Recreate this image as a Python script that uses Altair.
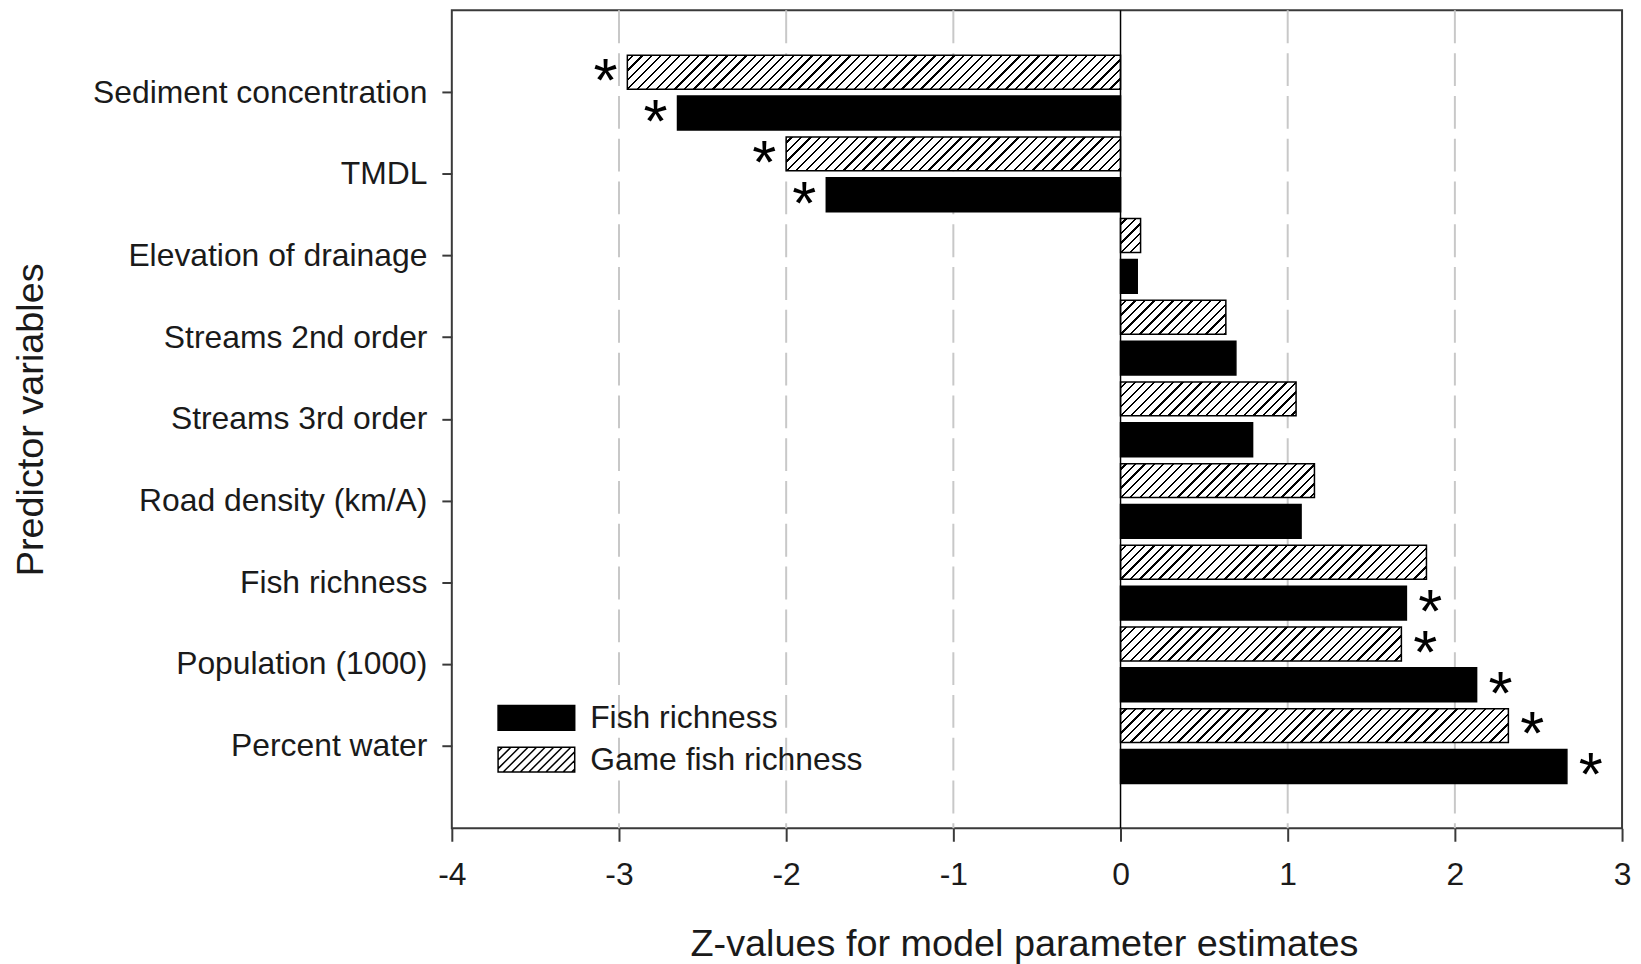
import altair as alt
import pandas as pd

# ---------------- data ----------------
categories = [
    "Sediment concentration",
    "TMDL",
    "Elevation of drainage",
    "Streams 2nd order",
    "Streams 3rd order",
    "Road density (km/A)",
    "Fish richness",
    "Population (1000)",
    "Percent water",
]
fish_richness = [-2.65, -1.76, 0.10, 0.69, 0.79, 1.08, 1.71, 2.13, 2.67]
game_fish_richness = [-2.95, -2.00, 0.12, 0.63, 1.05, 1.16, 1.83, 1.68, 2.32]
fish_significant = [True, True, False, False, False, False, True, True, True]
game_significant = [True, True, False, False, False, False, False, True, True]
series_names = ["Fish richness", "Game fish richness"]
x_tick_values = [-4, -3, -2, -1, 0, 1, 2, 3]
grid_values = [-3, -2, -1, 1, 2]
zero_line = [0]

# ---------------- layout ----------------
FONT = "Liberation Sans"
TXT = "#1a1a1a"
PLOT_W, PLOT_H = 1176, 822
X_MIN, X_MAX = -4, 3
PX_PER_UNIT = PLOT_W / (X_MAX - X_MIN)
Y_PAD_IN, Y_PAD_OUT, OFF_PAD = 0.085, 0.55, 0.17
step = PLOT_H / (len(categories) - Y_PAD_IN + 2 * Y_PAD_OUT)
band = step * (1 - Y_PAD_IN)
bar_h = band / (2 - OFF_PAD) * (1 - OFF_PAD)

HATCH_PERIOD = 9.5   # px, horizontal spacing of hatch lines
HATCH_LINE = 2.3     # px, horizontal thickness of a hatch line


def hatch_gradient(w, h):
    """Linear gradient (bbox units) that draws 45-degree '/' stripes."""
    total = w + h
    stops = [{"offset": 0, "color": "white"}]
    pos = HATCH_PERIOD * 0.5
    while pos < total:
        a = round(pos / total, 5)
        b = round(min(pos + HATCH_LINE, total) / total, 5)
        stops += [
            {"offset": a, "color": "white"},
            {"offset": a, "color": "black"},
            {"offset": b, "color": "black"},
            {"offset": b, "color": "white"},
        ]
        pos += HATCH_PERIOD
    stops.append({"offset": 1, "color": "white"})
    d = w * w + h * h
    return {
        "gradient": "linear",
        "x1": 0, "y1": 0,
        "x2": round(w * total / d, 5),
        "y2": round(h * total / d, 5),
        "stops": stops,
    }


rows = []
for i, c in enumerate(categories):
    rows.append({"predictor": c, "series": series_names[1],
                 "value": game_fish_richness[i], "sig": game_significant[i]})
    rows.append({"predictor": c, "series": series_names[0],
                 "value": fish_richness[i], "sig": fish_significant[i]})
df = pd.DataFrame(rows)

# fill: black for fish richness, hatch gradient for game fish richness
conds = []
for c, v in zip(categories, game_fish_richness):
    conds.append({
        "test": f"datum.series === '{series_names[1]}' && datum.predictor === '{c}'",
        "value": hatch_gradient(abs(v) * PX_PER_UNIT, bar_h),
    })
fill_enc = {"condition": conds, "value": "black"}

# legend symbol paths (unit = sqrt(size)/2 = 15 px)
SYM_SIZE = 900
U = (SYM_SIZE ** 0.5) / 2
hw, hh = 38.5 / U, 12.5 / U


def rect_path():
    return f"M{-hw:.3f},{-hh:.3f}H{hw:.3f}V{hh:.3f}H{-hw:.3f}Z"


def hatch_path():
    p = rect_path()
    per = 8.6 / U
    c = -hw - hh + per * 0.5
    while c < hw + hh:
        x1 = max(-hw, c - hh)
        x2 = min(hw, c + hh)
        if x2 - x1 > 0.05:
            p += f"M{x1:.3f},{c - x1:.3f}L{x2:.3f},{c - x2:.3f}"
        c += per
    return p


x_axis = alt.Axis(
    values=x_tick_values, grid=False, domain=False,
    ticks=True, tickSize=13, tickWidth=2, tickColor="#3a3a3a",
    labelExpr="'' + datum.value", labelFontSize=32, labelFont=FONT,
    labelColor=TXT, labelPadding=18, labelFlush=False,
    title="Z-values for model parameter estimates",
    titleFontSize=38, titleFont=FONT, titleColor=TXT,
    titleFontWeight="normal", titleX=575, titleY=128,
    titleAlign="center", titleBaseline="alphabetic",
)
y_axis = alt.Axis(
    domain=False, ticks=True, tickSize=10, tickWidth=2, tickColor="#3a3a3a",
    labelFontSize=32, labelFont=FONT, labelColor=TXT, labelPadding=15,
    labelAlign="right", labelLimit=600,
    title="Predictor variables", titleFontSize=38, titleFont=FONT,
    titleColor=TXT, titleFontWeight="normal", titleAngle=270,
    titleX=-411, titleY=411, titleAlign="center", titleBaseline="alphabetic",
)

x_enc = alt.X("value:Q", scale=alt.Scale(domain=[X_MIN, X_MAX], nice=False, zero=False),
              axis=x_axis)
y_enc = alt.Y("predictor:N", scale=alt.Scale(domain=categories, paddingInner=Y_PAD_IN,
                                             paddingOuter=Y_PAD_OUT), axis=y_axis)
yoff_enc = alt.YOffset("series:N", scale=alt.Scale(domain=[series_names[1], series_names[0]],
                                                   paddingInner=OFF_PAD, paddingOuter=0))

grid = alt.Chart(pd.DataFrame({"value": grid_values})).mark_rule(
    color="#c8c8c8", strokeWidth=2, strokeDash=[33, 10]
).encode(x=x_enc)

bars = alt.Chart(df).mark_bar(stroke="black", strokeWidth=1.5).encode(
    x=x_enc, x2=alt.datum(0), y=y_enc, yOffset=yoff_enc, fill=fill_enc
)

zero = alt.Chart(pd.DataFrame({"value": zero_line})).mark_rule(
    color="black", strokeWidth=1.5
).encode(x=x_enc)

ast_neg = alt.Chart(df).transform_filter("datum.sig && datum.value < 0").mark_text(
    text="*", align="right", baseline="alphabetic", dx=-10, dy=29,
    fontSize=62, font=FONT, color="black"
).encode(x=x_enc, y=y_enc, yOffset=yoff_enc)

ast_pos = alt.Chart(df).transform_filter("datum.sig && datum.value > 0").mark_text(
    text="*", align="left", baseline="alphabetic", dx=12, dy=29,
    fontSize=62, font=FONT, color="black"
).encode(x=x_enc, y=y_enc, yOffset=yoff_enc)

legend = alt.Legend(
    title=None, orient="none", legendX=69, legendY=695, padding=0,
    symbolSize=SYM_SIZE, symbolStrokeColor="black", symbolStrokeWidth=1.5,
    symbolOpacity=1, labelFontSize=32, labelFont=FONT, labelColor=TXT,
    labelOffset=38, rowPadding=10, labelLimit=500,
)
legend_points = alt.Chart(df).mark_point(
    filled=True, opacity=0, size=10
).encode(
    x=x_enc, y=y_enc, yOffset=yoff_enc,
    fill=alt.Fill("series:N", scale=alt.Scale(domain=series_names, range=["black", "white"]),
                  legend=legend),
    stroke=alt.Stroke("series:N", scale=alt.Scale(domain=series_names,
                                                  range=["black", "black"]),
                      legend=legend),
    shape=alt.Shape("series:N", scale=alt.Scale(domain=series_names,
                                                range=[rect_path(), hatch_path()]),
                    legend=legend),
)

chart = alt.layer(grid, bars, zero, ast_neg, ast_pos, legend_points).properties(
    width=PLOT_W, height=PLOT_H,
    autosize=alt.AutoSizeParams(type="none"),
    padding={"left": 446, "top": 0, "right": 11, "bottom": 134},
    background="white",
).configure_view(stroke="#3a3a3a", strokeWidth=2)

chart.save("out.html", embed_options={"renderer": "svg", "actions": False})
